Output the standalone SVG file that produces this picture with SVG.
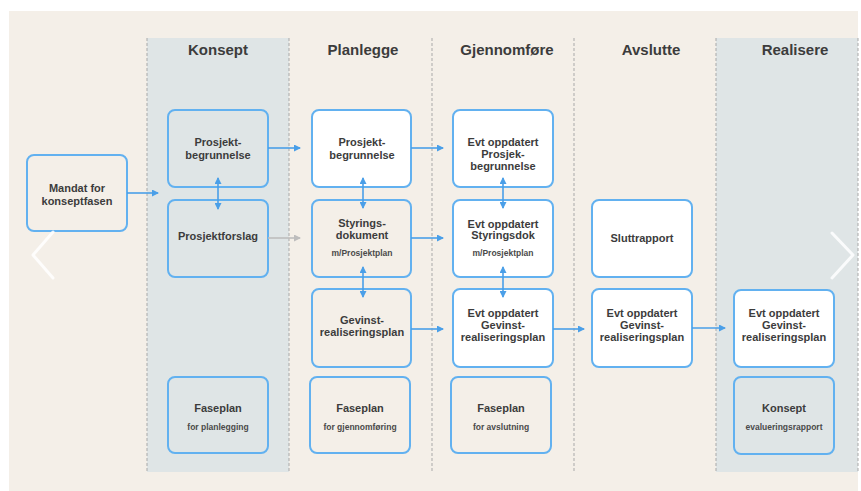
<svg xmlns="http://www.w3.org/2000/svg" width="861" height="491" viewBox="0 0 861 491">
<defs>
<style>
.bg{fill:#f4efe8}
.col{fill:#dfe5e6}
.dash{stroke:#a9a9a9;stroke-width:1;stroke-dasharray:3 2;fill:none}
.box{stroke:#62b1f0;stroke-width:2}
.w{fill:#ffffff}
.b{fill:#f4efe8}
.g{fill:#dfe5e6}
text{font-family:"Liberation Sans",Arial,sans-serif;fill:#3c3c3c;text-anchor:middle;font-weight:bold}
.h{font-size:15px}
.t{font-size:11px}
.s{font-size:8.5px;fill:#4a4a4a}
.ar{stroke:#4a9fe8;stroke-width:1.6;fill:none}
.gr{stroke:#bdbdbd;stroke-width:1.6;fill:none}
.chev{stroke:#ffffff;stroke-opacity:0.85;stroke-width:3;fill:none;stroke-linecap:round;stroke-linejoin:round}
</style>
<marker id="ah" markerWidth="7" markerHeight="7" refX="6" refY="3.5" orient="auto" markerUnits="userSpaceOnUse"><path d="M0,0 L7,3.5 L0,7 Z" fill="#4a9fe8"/></marker>
<marker id="ahs" markerWidth="7" markerHeight="7" refX="6" refY="3.5" orient="auto-start-reverse" markerUnits="userSpaceOnUse"><path d="M0,0 L7,3.5 L0,7 Z" fill="#4a9fe8"/></marker>
<marker id="ahg" markerWidth="7" markerHeight="7" refX="6" refY="3.5" orient="auto" markerUnits="userSpaceOnUse"><path d="M0,0 L7,3.5 L0,7 Z" fill="#bdbdbd"/></marker>
</defs>
<rect width="861" height="491" fill="#ffffff"/>
<rect class="bg" x="9" y="11" width="849" height="480"/>
<g id="columns">
<rect class="col" x="147" y="38" width="142" height="434"/>
<rect class="col" x="716" y="38" width="142" height="434"/>
<line class="dash" x1="147" y1="38" x2="147" y2="472"/>
<line class="dash" x1="289" y1="38" x2="289" y2="472"/>
<line class="dash" x1="432" y1="38" x2="432" y2="472"/>
<line class="dash" x1="574" y1="38" x2="574" y2="472"/>
<line class="dash" x1="716" y1="38" x2="716" y2="472"/>
<line class="dash" x1="858" y1="38" x2="858" y2="472"/>
</g>
<g id="headers">
<text class="h" x="218" y="55">Konsept</text>
<text class="h" x="363" y="55">Planlegge</text>
<text class="h" x="507" y="55">Gjennomføre</text>
<text class="h" x="651" y="55">Avslutte</text>
<text class="h" x="795" y="55">Realisere</text>
</g>
<g id="mandat"><rect class="box b" x="27" y="155" width="100" height="76" rx="7"/>
<text class="t" x="77" y="192">Mandat for</text><text class="t" x="77" y="205">konseptfasen</text></g>
<g id="k-pb"><rect class="box g" x="168" y="110" width="100" height="77" rx="7"/>
<text class="t" x="218" y="146">Prosjekt-</text><text class="t" x="218" y="159">begrunnelse</text></g>
<g id="k-pf"><rect class="box g" x="168" y="200" width="100" height="77" rx="7"/>
<text class="t" x="218" y="240">Prosjektforslag</text></g>
<g id="k-fp"><rect class="box g" x="168" y="377" width="100" height="76" rx="7"/>
<text class="t" x="218" y="412">Faseplan</text><text class="s" x="218" y="430">for planlegging</text></g>
<g id="p-pb"><rect class="box w" x="312" y="110" width="99" height="77" rx="7"/>
<text class="t" x="362" y="146">Prosjekt-</text><text class="t" x="362" y="159">begrunnelse</text></g>
<g id="p-sd"><rect class="box b" x="312" y="200" width="99" height="77" rx="7"/>
<text class="t" x="362" y="227">Styrings-</text><text class="t" x="362" y="239">dokument</text><text class="s" x="362" y="256">m/Prosjektplan</text></g>
<g id="p-gr"><rect class="box b" x="312" y="289" width="99" height="78" rx="7"/>
<text class="t" x="362" y="324">Gevinst-</text><text class="t" x="362" y="336">realiseringsplan</text></g>
<g id="p-fp"><rect class="box b" x="310" y="377" width="100" height="76" rx="7"/>
<text class="t" x="360" y="412">Faseplan</text><text class="s" x="360" y="430">for gjennomføring</text></g>
<g id="g-pb"><rect class="box w" x="453" y="110" width="100" height="77" rx="7"/>
<text class="t" x="503" y="146">Evt oppdatert</text><text class="t" x="503" y="158">Prosjek-</text><text class="t" x="503" y="170">begrunnelse</text></g>
<g id="g-sd"><rect class="box w" x="453" y="200" width="100" height="77" rx="7"/>
<text class="t" x="503" y="228">Evt oppdatert</text><text class="t" x="503" y="239">Styringsdok</text><text class="s" x="503" y="256">m/Prosjektplan</text></g>
<g id="g-gr"><rect class="box w" x="453" y="289" width="100" height="78" rx="7"/>
<text class="t" x="503" y="317">Evt oppdatert</text><text class="t" x="503" y="329">Gevinst-</text><text class="t" x="503" y="341">realiseringsplan</text></g>
<g id="g-fp"><rect class="box b" x="451" y="377" width="100" height="76" rx="7"/>
<text class="t" x="501" y="412">Faseplan</text><text class="s" x="501" y="430">for avslutning</text></g>
<g id="a-sr"><rect class="box w" x="592" y="200" width="100" height="77" rx="7"/>
<text class="t" x="642" y="242">Sluttrapport</text></g>
<g id="a-gr"><rect class="box w" x="592" y="289" width="100" height="78" rx="7"/>
<text class="t" x="642" y="317">Evt oppdatert</text><text class="t" x="642" y="329">Gevinst-</text><text class="t" x="642" y="341">realiseringsplan</text></g>
<g id="r-gr"><rect class="box w" x="734" y="290" width="100" height="77" rx="7"/>
<text class="t" x="784" y="317">Evt oppdatert</text><text class="t" x="784" y="329">Gevinst-</text><text class="t" x="784" y="341">realiseringsplan</text></g>
<g id="r-ke"><rect class="box g" x="734" y="377" width="100" height="77" rx="7"/>
<text class="t" x="784" y="412">Konsept</text><text class="s" x="784" y="430">evalueringsrapport</text></g>
<g id="connectors">
<path class="ar" d="M127 193 H158" marker-end="url(#ah)"/>
<path class="ar" d="M268 148 H300" marker-end="url(#ah)"/>
<path class="gr" d="M268 238 H300" marker-end="url(#ahg)"/>
<path class="ar" d="M411 148 H443" marker-end="url(#ah)"/>
<path class="ar" d="M411 238 H443" marker-end="url(#ah)"/>
<path class="ar" d="M411 329 H443" marker-end="url(#ah)"/>
<path class="ar" d="M553 329 H584" marker-end="url(#ah)"/>
<path class="ar" d="M692 328 H725" marker-end="url(#ah)"/>
<path class="ar" d="M218 178 V209" marker-start="url(#ahs)" marker-end="url(#ahs)"/>
<path class="ar" d="M363 178 V208" marker-start="url(#ahs)" marker-end="url(#ahs)"/>
<path class="ar" d="M363 267 V297" marker-start="url(#ahs)" marker-end="url(#ahs)"/>
<path class="ar" d="M503 178 V208" marker-start="url(#ahs)" marker-end="url(#ahs)"/>
<path class="ar" d="M503 267 V297" marker-start="url(#ahs)" marker-end="url(#ahs)"/>
</g>
<g id="nav">
<polyline class="chev" points="53,232 33,255 53,278"/>
<polyline class="chev" points="832,233 853,255 832,278"/>
</g>
</svg>
